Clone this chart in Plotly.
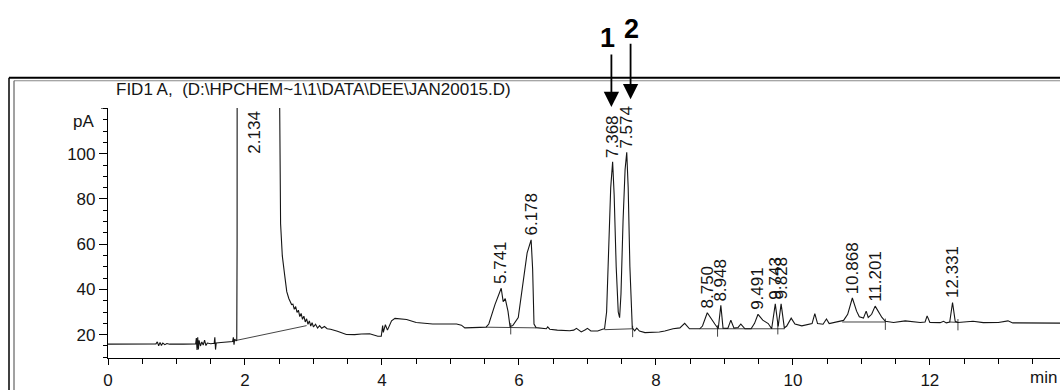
import numpy as np
import plotly.graph_objects as go

# ---------------- data ----------------
time_min = [
    0.00, 0.30, 0.60, 0.70, 0.72, 0.74, 0.76, 0.78, 0.80, 0.83, 0.86, 0.90, 1.10, 1.28, 1.29,
    1.30, 1.31, 1.32, 1.33, 1.35, 1.37, 1.39, 1.41, 1.43, 1.45, 1.50, 1.55, 1.56, 1.57, 1.58,
    1.65, 1.75, 1.82, 1.83, 1.84, 1.85, 1.87, 1.88,
    1.885, 1.89, 2.134, 2.50, 2.507, 2.52, 2.545, 2.58, 2.61, 2.64, 2.68,
    2.70, 2.72, 2.74, 2.76, 2.78, 2.80, 2.82, 2.84, 2.86, 2.88, 2.90, 2.92, 2.94, 2.96, 2.98,
    3.00, 3.03, 3.06, 3.09, 3.12, 3.16, 3.20, 3.25, 3.30,
    3.35, 3.48, 3.60, 3.70, 3.82, 3.94, 3.99, 4.01, 4.02, 4.05, 4.08, 4.14, 4.19, 4.36, 4.50,
    4.74, 5.09, 5.16, 5.21, 5.43, 5.52, 5.56, 5.65, 5.741, 5.77, 5.80, 5.84, 5.87, 5.91, 5.99,
    6.06, 6.12, 6.178, 6.20, 6.22, 6.25, 6.40, 6.42, 6.45, 6.56, 6.74, 6.80, 6.84, 6.88, 6.91,
    6.97, 7.00, 7.05, 7.15, 7.22,
    7.25, 7.28, 7.31, 7.34, 7.368, 7.39, 7.42, 7.45, 7.47, 7.49, 7.52, 7.55, 7.574, 7.595, 7.62,
    7.64, 7.655, 7.69,
    7.72, 7.76, 7.84, 8.05, 8.13, 8.25, 8.35, 8.42, 8.49, 8.64, 8.68, 8.75, 8.81, 8.86, 8.91,
    8.948, 8.98, 9.05, 9.094, 9.14, 9.20, 9.24, 9.30, 9.39, 9.44, 9.491, 9.56, 9.64, 9.69, 9.743,
    9.785, 9.828, 9.875, 9.91, 9.975, 10.03, 10.13, 10.23, 10.28, 10.32, 10.36, 10.44, 10.49, 10.53,
    10.67, 10.74, 10.80, 10.868, 10.93, 10.97, 11.03, 11.07, 11.10, 11.15, 11.201, 11.25, 11.30,
    11.35, 11.47, 11.64, 11.86, 11.93, 11.96, 12.00, 12.15, 12.20, 12.24, 12.29, 12.331, 12.37,
    12.41, 12.63, 12.78, 13.00, 13.14, 13.21, 13.40, 13.90,
]
signal_pA = [
    15.8, 15.9, 15.8, 15.9, 16.8, 15.1, 16.6, 15.2, 16.3, 15.6, 16.1, 15.8, 15.8, 15.9, 18.5,
    13.2, 18.8, 13.5, 17.5, 15.0, 16.8, 15.4, 17.6, 15.2, 16.3, 16.0, 16.2, 18.8, 13.4, 16.3,
    16.5, 16.8, 17.0, 18.8, 15.6, 18.0, 17.3, 17.5,
    60.0, 600.0, 900.0, 600.0, 120.0, 69.0, 54.8, 46.2, 39.0, 36.0, 33.3,
    33.5, 31.2, 32.4, 29.8, 30.8, 28.0, 29.4, 26.8, 28.2, 25.6, 27.0, 24.6, 26.1, 23.8, 25.3,
    23.4, 24.6, 22.9, 24.0, 22.8, 23.6, 22.6, 22.4, 22.0,
    21.5, 20.1, 20.0, 20.3, 20.4, 19.3, 19.3, 24.0, 21.0, 24.4, 22.0, 26.1, 27.2, 26.7, 25.4,
    24.7, 24.7, 24.2, 23.0, 23.2, 23.3, 24.7, 33.3, 40.5, 34.6, 35.9, 30.4, 23.6, 24.0, 27.6,
    43.3, 56.2, 61.9, 49.0, 24.7, 23.1, 22.6, 23.4, 22.4, 22.0, 21.7, 22.0, 22.8, 21.8, 21.2,
    22.2, 22.8, 21.6, 21.6, 22.4,
    22.6, 30.0, 55.0, 85.0, 96.4, 82.0, 50.0, 30.0, 27.5, 38.0, 70.0, 93.0, 100.6, 85.0, 50.0,
    28.0, 23.0, 21.7,
    22.9, 21.6, 20.9, 21.2, 21.6, 22.6, 23.0, 25.0, 22.6, 22.6, 23.8, 29.7, 26.8, 24.7, 22.6,
    33.0, 22.9, 22.8, 26.4, 22.9, 23.2, 24.7, 22.6, 22.6, 25.0, 29.0, 26.4, 24.9, 22.6, 33.6,
    23.6, 33.6, 23.0, 23.8, 27.3, 24.7, 23.9, 24.6, 24.9, 29.3, 24.9, 24.6, 26.9, 24.9,
    25.7, 26.3, 29.0, 36.2, 30.4, 27.9, 27.3, 30.4, 27.6, 29.0, 32.6, 30.2, 27.6,
    25.9, 25.4, 26.1, 25.4, 25.6, 28.3, 25.4, 25.3, 25.9, 25.2, 25.6, 34.2, 25.9,
    25.4, 25.9, 25.3, 25.4, 26.1, 25.2, 25.1, 25.1,
]

# retention-time labels of the integrated peaks
peak_labels = ["2.134", "5.741", "6.178", "7.368", "7.574", "8.750", "8.948",
               "9.491", "9.743", "9.828", "10.868", "11.201", "12.331"]

# integration baselines (start/end time, start/end value)
base_t0 = [1.88, 5.52, 7.25, 8.64, 10.72, 12.29]
base_t1 = [2.90, 6.25, 7.655, 9.88, 11.35, 12.41]
base_v0 = [17.5, 23.3, 22.2, 22.6, 25.6, 25.6]
base_v1 = [24.0, 23.0, 22.6, 22.6, 25.6, 25.4]

# peak-boundary tick marks
mark_t = [5.88, 7.66, 8.90, 9.78, 11.35, 12.41]
mark_v = [23.6, 22.4, 22.6, 23.6, 25.6, 25.4]

x_ticks = [0, 2, 4, 6, 8, 10, 12]
y_ticks = [20, 40, 60, 80, 100]
y_minor = [10, 15, 25, 30, 35, 45, 50, 55, 65, 70, 75, 85, 90, 95, 105, 110, 115, 120]

title_text = "FID1 A,  (D:\\HPCHEM~1\\1\\DATA\\DEE\\JAN20015.D)"
marker_names = ["1", "2"]
marker_times = [7.35, 7.63]

# ---------------- figure ----------------
INK = "#151515"
FONT = "Liberation Sans, Arial, sans-serif"
Y_RANGE = [9.68, 120.2]
X_RANGE = [0, 13.90]

W, H = 1060, 390
ML, MR, MT, MB = 108, 0, 108, 25
PW, PH = W - ML - MR, H - MT - MB


def px_to_paper_x(px):
    return (px - ML) / PW


def py_to_paper_y(py):
    return 1 + (MT - py) / PH


fig = go.Figure()

fig.add_trace(go.Scatter(x=time_min, y=signal_pA, mode="lines",
                         line=dict(color=INK, width=1.1), hoverinfo="skip",
                         showlegend=False))

# baselines
bx, by = [], []
for a, b, c, d in zip(base_t0, base_t1, base_v0, base_v1):
    bx += [a, b, None]
    by += [c, d, None]
fig.add_trace(go.Scatter(x=bx, y=by, mode="lines", line=dict(color=INK, width=0.8),
                         hoverinfo="skip", showlegend=False))
# boundary ticks
mx, my = [], []
for a, c in zip(mark_t, mark_v):
    mx += [a, a, None]
    my += [c + 1.5, c - 3.5, None]
fig.add_trace(go.Scatter(x=mx, y=my, mode="lines", line=dict(color=INK, width=0.8),
                         hoverinfo="skip", showlegend=False))

t_arr = np.array(time_min)
v_arr = np.array(signal_pA)
for lab in peak_labels:
    rt = float(lab)
    h = float(np.interp(rt, t_arr, v_arr))
    if h > Y_RANGE[1]:
        fig.add_annotation(x=rt, y=Y_RANGE[1], xref="x", yref="y", text=lab,
                           textangle=-90, showarrow=False, xanchor="center",
                           yanchor="top", yshift=-1, font=dict(size=17, color=INK, family=FONT))
    else:
        fig.add_annotation(x=rt, y=h, xref="x", yref="y", text=lab,
                           textangle=-90, showarrow=False, xanchor="center",
                           yanchor="bottom", yshift=2, font=dict(size=17, color=INK, family=FONT))

# title inside the frame
fig.add_annotation(x=px_to_paper_x(114), y=py_to_paper_y(89), xref="paper", yref="paper",
                   text=title_text, showarrow=False, xanchor="left", yanchor="middle",
                   font=dict(size=17, color=INK, family=FONT))
# pA unit
fig.add_annotation(x=px_to_paper_x(96), y=114.2, xref="paper", yref="y", text="pA",
                   showarrow=False, xanchor="right", yanchor="middle",
                   font=dict(size=17, color=INK, family=FONT))
# min label at the right edge
fig.add_annotation(x=px_to_paper_x(1059), y=0, xref="paper", yref="paper", text="min",
                   showarrow=False, xanchor="right", yanchor="top", yshift=-8,
                   font=dict(size=17, color=INK, family=FONT))

# numbered arrows above the frame
arrow_tail = [53, 42]
arrow_tip = [107, 99]
label_py = [36, 27]
label_dx = [-4, 1]
for name, tm, tail, tip, lp, dx in zip(marker_names, marker_times, arrow_tail, arrow_tip, label_py, label_dx):
    fig.add_annotation(x=tm, y=py_to_paper_y(tip), xref="x", yref="paper", text="",
                       showarrow=True, arrowhead=2, arrowsize=1.7, arrowwidth=1.8,
                       arrowcolor="black", ax=0, ay=-(tip - tail))
    fig.add_annotation(x=tm, y=py_to_paper_y(lp), xref="x", yref="paper", text="<b>%s</b>" % name,
                       showarrow=False, xanchor="center", yanchor="middle", xshift=dx,
                       font=dict(size=27, color="black", family=FONT))

# report frame
frame_top = py_to_paper_y(77)
fig.add_shape(type="line", xref="paper", yref="paper", x0=px_to_paper_x(9), x1=1.02,
              y0=frame_top, y1=frame_top, line=dict(color="black", width=2))
fig.add_shape(type="line", xref="paper", yref="paper", x0=px_to_paper_x(14), x1=1.02,
              y0=py_to_paper_y(80), y1=py_to_paper_y(80), line=dict(color="#888", width=1))
fig.add_shape(type="line", xref="paper", yref="paper", x0=px_to_paper_x(9), x1=px_to_paper_x(9),
              y0=frame_top, y1=-0.2, line=dict(color="black", width=1.5))
fig.add_shape(type="line", xref="paper", yref="paper", x0=px_to_paper_x(14), x1=px_to_paper_x(14),
              y0=py_to_paper_y(80), y1=-0.2, line=dict(color="#444", width=1))
# top bracket of the y axis
fig.add_shape(type="line", xref="paper", yref="y", x0=px_to_paper_x(101), x1=0,
              y0=Y_RANGE[1], y1=Y_RANGE[1], line=dict(color="black", width=1.2))

fig.update_xaxes(range=X_RANGE, showgrid=False, zeroline=False, showline=True,
                 linecolor="black", linewidth=1.2, ticks="outside", ticklen=6,
                 tickcolor="black", tickwidth=1, tickvals=x_ticks,
                 tickfont=dict(size=17, color=INK, family=FONT),
                 minor=dict(dtick=0.5, tick0=0, ticks="outside", ticklen=5,
                            tickcolor="black", showgrid=False))
fig.update_yaxes(range=Y_RANGE, showgrid=False, zeroline=False, showline=True,
                 linecolor="black", linewidth=1.2, ticks="outside", ticklen=8,
                 tickcolor="black", tickwidth=1, tickvals=y_ticks,
                 tickfont=dict(size=17, color=INK, family=FONT),
                 minor=dict(tickvals=y_minor, ticks="outside", ticklen=4,
                            tickcolor="black", showgrid=False))

fig.update_layout(width=W, height=H, margin=dict(l=ML, r=MR, t=MT, b=MB),
                  paper_bgcolor="white", plot_bgcolor="white",
                  font=dict(family=FONT, color=INK), showlegend=False)

fig.write_html("out.html", config={"displayModeBar": False},
               post_script="document.body.style.margin='0px';document.body.style.overflow='hidden';")
